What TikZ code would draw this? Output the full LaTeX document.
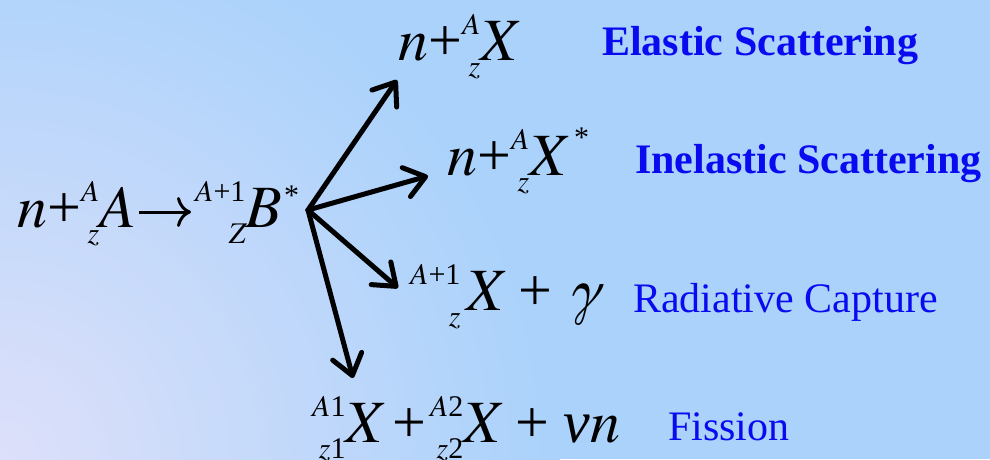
\documentclass[tikz,border=0pt]{standalone}
\usepackage{fontspec}
\setmainfont{Liberation Serif}
\IfFontExistsTF{texgyretermes-italic.otf}
  {\newfontfamily\vit{texgyretermes-italic.otf}}
  {\newfontfamily\vit{Liberation Serif}[FakeSlant=0.2]}
\usetikzlibrary{arrows.meta}
\definecolor{bgA}{RGB}{222,224,250}
\definecolor{bgC}{RGB}{170,210,251}
\definecolor{lblue}{RGB}{10,10,240}
\newcommand\nucl[2]{%
  \setbox0=\hbox{\fontsize{30pt}{30pt}\selectfont #1}%
  \setbox2=\hbox{\fontsize{30pt}{30pt}\selectfont #2}%
  \ifdim\wd0>\wd2 \dimen0=\wd0 \else \dimen0=\wd2 \fi
  \hbox to\dimen0{\hss\raise26pt\box0}%
  \hskip-\dimen0
  \hbox to\dimen0{\hss\lower16pt\box2}}
\newcommand\starsup[1]{\raisebox{#1}{\fontsize{30pt}{30pt}\selectfont *}}
\begin{document}
\begin{tikzpicture}[x=1pt,y=-1pt,
  eq/.style={inner sep=0pt, anchor=base west, font=\fontsize{60pt}{60pt}\selectfont},
  lbl/.style={inner sep=0pt, anchor=base west, text=lblue, font=\fontsize{42pt}{42pt}\selectfont},
  rx/.style={line width=5pt, line cap=round, line join=round,
    -{Straight Barb[length=20pt,width=30pt,line cap=round,line join=round]}},
  rarr/.style={line width=3pt, -{To[length=14pt,width=30pt]}}]
\begin{scope}
\clip (0,0) rectangle (990,459);
\fill[bgC] (0,0) rectangle (990,459);
\foreach \r [evaluate=\r as \p using \r*100/56] in {56,55,...,1}
  \fill[bgC!\p!bgA] (0,459) circle[radius=\r*10];
\end{scope}
\useasboundingbox (0,0) rectangle (990,459);
\node[eq] (r1) at (17,227) {{\vit n}+\nucl{{\vit A}}{{\vit z}}{\vit A}};
\node[eq] (r2) at (195,227) {\nucl{{\vit A}+1}{{\vit Z}}{\vit B}\kern2pt\starsup{22pt}};
\draw[rarr] ([xshift=3pt,yshift=15pt]r1.base east) -- ([xshift=-4pt,yshift=15pt]r2.base west);
\node[eq] (p1) at (398,60) {{\vit n}+\nucl{{\vit A}}{{\vit z}}{\vit X}};
\node[eq] (p2) at (447,175) {{\vit n}+\nucl{{\vit A}}{{\vit z}}{\vit X}\kern8pt\starsup{28pt}};
\node[eq] (p3) at (410,310) {\nucl{{\vit A}+1}{{\vit z}}\kern6pt{\vit X} + {\vit γ}};
\node[eq] (p4) at (312,442) {\nucl{{\vit A}1}{{\vit z}1}{\vit X}\kern10pt+\kern4pt\nucl{{\vit A}2}{{\vit z}2}{\vit X}\ +\ {\itshape ν}{\vit n}};
\node[lbl, font=\fontsize{42pt}{42pt}\selectfont\bfseries] (l1) at (602,55) {Elastic Scattering};
\node[lbl, font=\fontsize{42pt}{42pt}\selectfont\bfseries] (l2) at (635,173) {Inelastic Scattering};
\node[lbl] (l3) at (633,312) {Radiative Capture};
\node[lbl] (l4) at (668,440) {Fission};
\coordinate (o) at (308,210);
\coordinate (t1) at (397,80);
\coordinate (t2) at (428,176);
\coordinate (t3) at (398,288);
\coordinate (t4) at (353,378);
\draw[rx] (o) -- (t1);
\draw[rx] (o) -- (t2);
\draw[rx] (o) -- (t3);
\draw[rx] (o) -- (t4);
\end{tikzpicture}
\end{document}
